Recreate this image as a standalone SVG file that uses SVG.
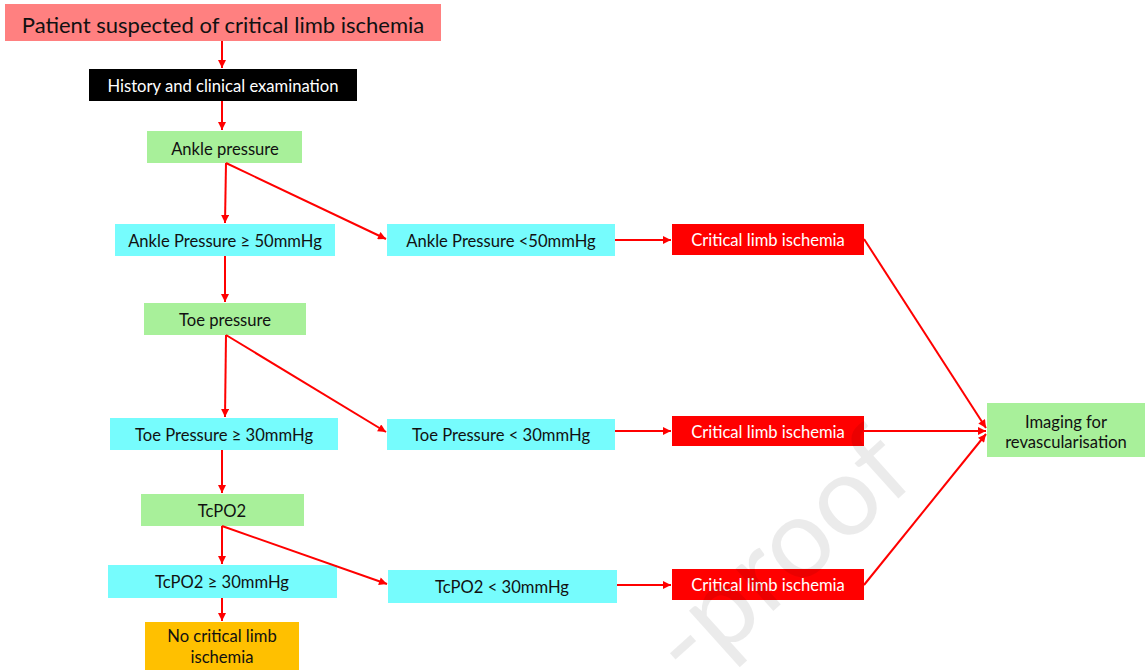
<svg xmlns="http://www.w3.org/2000/svg" width="1145" height="670" viewBox="0 0 1145 670">
<defs>
<marker id="ah" viewBox="0 0 10 10" refX="10" refY="5" markerWidth="9" markerHeight="8" markerUnits="userSpaceOnUse" orient="auto">
<path d="M0,0 L10,5 L0,10 z" fill="#FF0000"/>
</marker>
<style>
text{font-family:Lato,"Open Sans","Liberation Sans",sans-serif;font-size:16.6px;text-anchor:middle;fill:#111}
.t{font-size:22px}
.w{fill:#fff}
.salmon{fill:#FF8080}
.black{fill:#000}
.green{fill:#A8F09A}
.cyan{fill:#76FCFD}
.red{fill:#FF0000}
.orange{fill:#FFC000}
.c line{stroke:#FF0000;stroke-width:2;marker-end:url(#ah)}
.wm{font-size:112px;fill:#000;fill-opacity:0.08;text-anchor:start}
</style>
</defs>
<rect width="1145" height="670" fill="#fff"/>
<g id="n-patient"><rect class="salmon" x="5" y="4" width="436" height="37"/><text class="t" x="223" y="33">Patient suspected of critical limb ischemia</text></g>
<g id="n-history"><rect class="black" x="89" y="69" width="268" height="32"/><text class="w" x="223" y="92">History and clinical examination</text></g>
<g id="n-ankle"><rect class="green" x="147" y="131" width="155" height="32"/><text x="225" y="155">Ankle pressure</text></g>
<g id="n-ankle-ge"><rect class="cyan" x="115" y="224" width="220" height="32"/><text x="225" y="247">Ankle Pressure ≥ 50mmHg</text></g>
<g id="n-ankle-lt"><rect class="cyan" x="387" y="224" width="228" height="32"/><text x="501" y="247">Ankle Pressure &lt;50mmHg</text></g>
<g id="n-cli1"><rect class="red" x="672" y="224" width="192" height="31"/><text class="w" x="768" y="246">Critical limb ischemia</text></g>
<g id="n-toe"><rect class="green" x="144" y="303" width="162" height="32"/><text x="225" y="326">Toe pressure</text></g>
<g id="n-toe-ge"><rect class="cyan" x="110" y="418" width="228" height="32"/><text x="224" y="441">Toe Pressure ≥ 30mmHg</text></g>
<g id="n-toe-lt"><rect class="cyan" x="387" y="419" width="228" height="31"/><text x="501" y="441">Toe Pressure &lt; 30mmHg</text></g>
<g id="n-cli2"><rect class="red" x="672" y="416" width="192" height="30"/><text class="w" x="768" y="438">Critical limb ischemia</text></g>
<g id="n-imaging"><rect class="green" x="987" y="403" width="158" height="54"/><text x="1066" y="428">Imaging for</text><text x="1066" y="448">revascularisation</text></g>
<g id="n-tcpo2"><rect class="green" x="141" y="494" width="163" height="32"/><text x="222" y="517">TcPO2</text></g>
<g id="n-tcpo2-ge"><rect class="cyan" x="108" y="565" width="229" height="33"/><text x="222" y="588">TcPO2 ≥ 30mmHg</text></g>
<g id="n-tcpo2-lt"><rect class="cyan" x="388" y="570" width="229" height="33"/><text x="502" y="593">TcPO2 &lt; 30mmHg</text></g>
<g id="n-cli3"><rect class="red" x="672" y="569" width="192" height="31"/><text class="w" x="768" y="591">Critical limb ischemia</text></g>
<g id="n-nocli"><rect class="orange" x="145" y="622" width="154" height="50"/><text x="222" y="642">No critical limb</text><text x="222" y="663">ischemia</text></g>
<g id="connectors" class="c">
<line x1="222" y1="41" x2="222" y2="68"/>
<line x1="222" y1="101" x2="222" y2="130"/>
<line x1="226" y1="163" x2="225" y2="223"/>
<line x1="226" y1="163" x2="386" y2="239"/>
<line x1="615" y1="240" x2="671" y2="240"/>
<line x1="225" y1="256" x2="225" y2="302"/>
<line x1="226" y1="335" x2="225" y2="417"/>
<line x1="226" y1="335" x2="386" y2="432"/>
<line x1="615" y1="431" x2="671" y2="431"/>
<line x1="222" y1="450" x2="222" y2="493"/>
<line x1="222" y1="526" x2="222" y2="564"/>
<line x1="222" y1="526" x2="387" y2="584"/>
<line x1="617" y1="585" x2="671" y2="585"/>
<line x1="222" y1="598" x2="222" y2="621"/>
<line x1="864" y1="239" x2="986" y2="428"/>
<line x1="864" y1="431" x2="986" y2="431"/>
<line x1="864" y1="585" x2="986" y2="434"/>
</g>
<text class="wm" x="0" y="0" transform="translate(690,686) rotate(-42)">-proof</text>
</svg>
